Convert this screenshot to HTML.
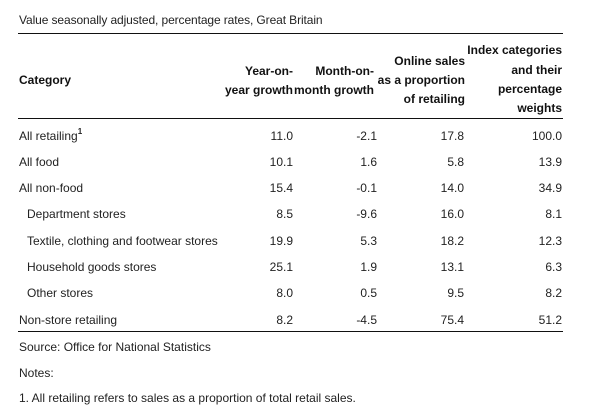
<!DOCTYPE html>
<html>
<head>
<meta charset="utf-8">
<style>
  html, body { margin:0; padding:0; background:#fff; }
  body { width:600px; height:417px; position:relative; overflow:hidden;
         font-family:"Liberation Sans", Arial, sans-serif; font-size:12px; color:#222; }
  .t { position:absolute; white-space:nowrap; line-height:18px; height:18px; }
  .r { text-align:right; }
  .b { font-weight:bold; color:#111; }
  .line { position:absolute; left:18px; width:545px; height:0; border-top:1.5px solid #111; }
  sup { font-size:8px; line-height:0; position:relative; top:-1px; vertical-align:super; font-weight:bold; }
</style>
</head>
<body>
<div class="t" style="left:19px; top:11px; letter-spacing:-0.1px;">Value seasonally adjusted, percentage rates, Great Britain</div>
<div class="line" style="top:33px;"></div>

<!-- header -->
<div class="t b" style="left:19px; top:71px;">Category</div>

<div class="t b r" style="right:307px; top:62px;">Year-on-</div>
<div class="t b r" style="right:307px; top:81px;">year growth</div>

<div class="t b r" style="right:226px; top:62px;">Month-on-</div>
<div class="t b r" style="right:226px; top:81px;">month growth</div>

<div class="t b r" style="right:135px; top:52px;">Online sales</div>
<div class="t b r" style="right:135px; top:71px;">as a proportion</div>
<div class="t b r" style="right:135px; top:90px;">of retailing</div>

<div class="t b r" style="right:38px; top:41px;">Index categories</div>
<div class="t b r" style="right:38px; top:61px;">and their</div>
<div class="t b r" style="right:38px; top:80px;">percentage</div>
<div class="t b r" style="right:38px; top:99px;">weights</div>

<div class="line" style="top:118px;"></div>

<!-- rows -->
<div class="t" style="left:19px; top:127px;">All retailing<sup>1</sup></div>
<div class="t r" style="right:307px; top:127px;">11.0</div>
<div class="t r" style="right:223px; top:127px;">-2.1</div>
<div class="t r" style="right:136px; top:127px;">17.8</div>
<div class="t r" style="right:38px; top:127px;">100.0</div>

<div class="t" style="left:19px; top:153px;">All food</div>
<div class="t r" style="right:307px; top:153px;">10.1</div>
<div class="t r" style="right:223px; top:153px;">1.6</div>
<div class="t r" style="right:136px; top:153px;">5.8</div>
<div class="t r" style="right:38px; top:153px;">13.9</div>

<div class="t" style="left:19px; top:179px;">All non-food</div>
<div class="t r" style="right:307px; top:179px;">15.4</div>
<div class="t r" style="right:223px; top:179px;">-0.1</div>
<div class="t r" style="right:136px; top:179px;">14.0</div>
<div class="t r" style="right:38px; top:179px;">34.9</div>

<div class="t" style="left:27px; top:205px;">Department stores</div>
<div class="t r" style="right:307px; top:205px;">8.5</div>
<div class="t r" style="right:223px; top:205px;">-9.6</div>
<div class="t r" style="right:136px; top:205px;">16.0</div>
<div class="t r" style="right:38px; top:205px;">8.1</div>

<div class="t" style="left:27px; top:232px;">Textile, clothing and footwear stores</div>
<div class="t r" style="right:307px; top:232px;">19.9</div>
<div class="t r" style="right:223px; top:232px;">5.3</div>
<div class="t r" style="right:136px; top:232px;">18.2</div>
<div class="t r" style="right:38px; top:232px;">12.3</div>

<div class="t" style="left:27px; top:258px;">Household goods stores</div>
<div class="t r" style="right:307px; top:258px;">25.1</div>
<div class="t r" style="right:223px; top:258px;">1.9</div>
<div class="t r" style="right:136px; top:258px;">13.1</div>
<div class="t r" style="right:38px; top:258px;">6.3</div>

<div class="t" style="left:27px; top:284px;">Other stores</div>
<div class="t r" style="right:307px; top:284px;">8.0</div>
<div class="t r" style="right:223px; top:284px;">0.5</div>
<div class="t r" style="right:136px; top:284px;">9.5</div>
<div class="t r" style="right:38px; top:284px;">8.2</div>

<div class="t" style="left:19px; top:311px;">Non-store retailing</div>
<div class="t r" style="right:307px; top:311px;">8.2</div>
<div class="t r" style="right:223px; top:311px;">-4.5</div>
<div class="t r" style="right:136px; top:311px;">75.4</div>
<div class="t r" style="right:38px; top:311px;">51.2</div>

<div class="line" style="top:331px;"></div>

<div class="t" style="left:19px; top:338px;">Source: Office for National Statistics</div>
<div class="t" style="left:19px; top:364px;">Notes:</div>
<div class="t" style="left:19px; top:389px;">1. All retailing refers to sales as a proportion of total retail sales.</div>
</body>
</html>
